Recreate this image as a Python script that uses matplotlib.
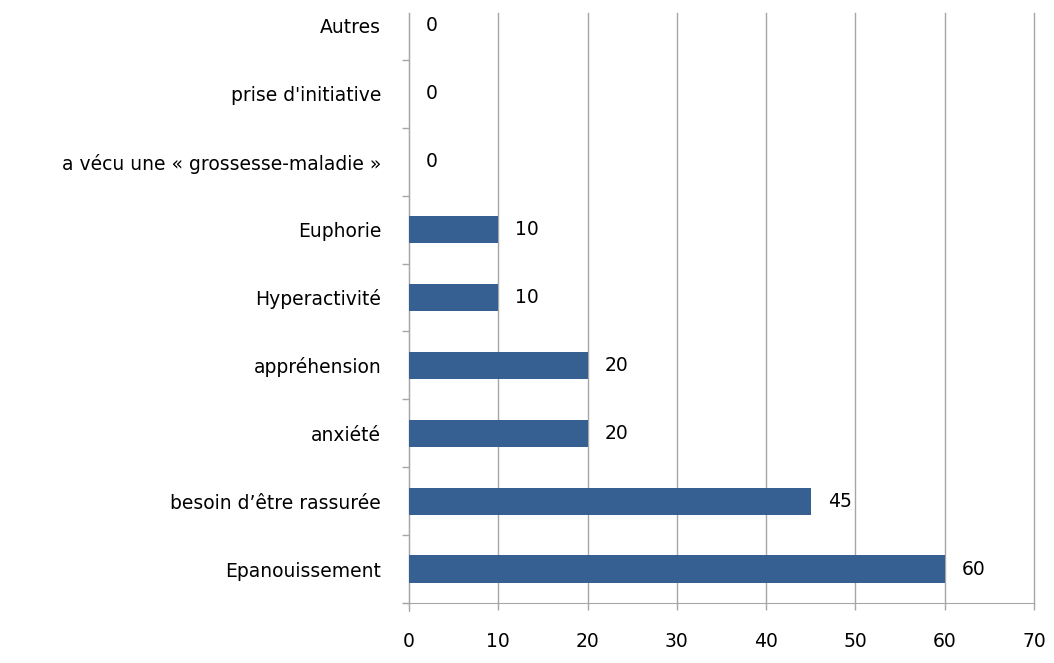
import matplotlib
matplotlib.use("Agg")
import matplotlib.pyplot as plt

categories = ["Epanouissement", "besoin d\u2019être rassurée", "anxiété", "appréhension",
              "Hyperactivité", "Euphorie", "a vécu une « grossesse-maladie »",
              "prise d'initiative", "Autres"]
values = [60, 45, 20, 20, 10, 10, 0, 0, 0]
xticks = [0, 10, 20, 30, 40, 50, 60, 70]

plt.rcParams['font.family'] = ['DejaVu Sans']
fig = plt.figure(figsize=(10.54, 6.63), dpi=100)
ax = fig.add_axes([409/1054, 60/663, (1034-409)/1054, (603-13)/663])

grey = "#a6a6a6"
ys = list(range(len(categories)))
ax.barh(ys, values, height=0.4, color="#376092", zorder=3)
for y, v in zip(ys, values):
    ax.text(v + 1.9, y, str(v), va="center", ha="left", fontsize=13.5, color="black")

ax.set_xlim(0, 70)
ax.set_ylim(-0.5, 8.19)
ax.set_xticks(xticks)
ax.set_xticklabels([str(t) for t in xticks], fontsize=13.5)
ax.xaxis.grid(True, color=grey, linewidth=1, zorder=0)
for gl in ax.get_xgridlines():
    gl.set_clip_on(False)
ax.set_yticks(ys)
ax.set_yticklabels(categories, fontsize=13.5)
ax.tick_params(axis="y", length=0, pad=20)
ax.set_yticks([i + 0.5 for i in range(-1, 8)], minor=True)
ax.tick_params(axis="y", which="minor", length=5, color=grey, width=1)
ax.tick_params(axis="x", length=5, color=grey, width=1, pad=16)

for s in ["top", "right"]:
    ax.spines[s].set_visible(False)
ax.spines["left"].set_color(grey)
ax.spines["bottom"].set_color(grey)
ax.spines["left"].set_bounds(-0.5 - 0.12, 8.19)
ax.spines["bottom"].set_bounds(-0.7, 70)

fig.savefig("out.png", dpi=100, facecolor="white")
